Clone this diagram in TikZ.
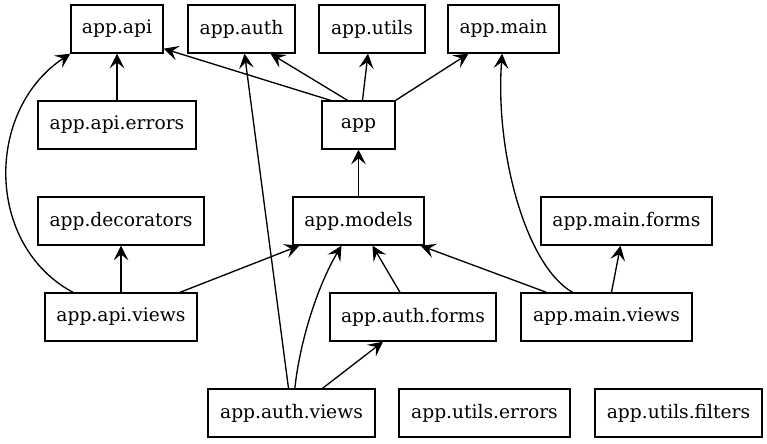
\documentclass[tikz,border=0pt]{standalone}
\usepackage{fontspec}
\newfontfamily\modfont[Extension=.ttf]{DejaVuSerif}
\usepackage{tikz}
\usetikzlibrary{arrows.meta,positioning,calc}

\begin{document}
\begin{tikzpicture}[
  x=0.75pt, y=-0.75pt,
  font=\modfont\fontsize{14pt}{16pt}\selectfont,
  modbox/.style={draw,line width=1pt,minimum height=36pt,inner sep=0pt},
  arr/.style={-{Stealth[length=11pt,width=11pt,inset=4.5pt]},line width=1pt}
]
\useasboundingbox (0,0) rectangle (767,443);
% top row
\node[modbox,minimum width=69pt] (api) at (117,29) {app.api};
\node[modbox,minimum width=80.25pt] (auth) at (241.5,29) {app.auth};
\node[modbox,minimum width=79.5pt] (utils) at (372,29) {app.utils};
\node[modbox,minimum width=83.25pt] (main) at (503.5,29) {app.main};
% second row
\node[modbox,minimum width=118.5pt] (apierrors) at (117,125) {app.api.errors};
\node[modbox,minimum width=54.75pt] (app) at (358.5,125) {app};
% third row
\node[modbox,minimum width=124.5pt] (decorators) at (121,221) {app.decorators};
\node[modbox,minimum width=98.25pt] (models) at (358.5,221) {app.models};
\node[modbox,minimum width=128.25pt] (mainforms) at (626.5,221) {app.main.forms};
% fourth row
\node[modbox,minimum width=114pt] (apiviews) at (121,317) {app.api.views};
\node[modbox,minimum width=124.5pt] (authforms) at (413,317) {app.auth.forms};
\node[modbox,minimum width=128.25pt] (mainviews) at (606.5,317) {app.main.views};
% bottom row
\node[modbox,minimum width=125.25pt] (authviews) at (291.5,413) {app.auth.views};
\node[modbox,minimum width=128.25pt] (utilerrors) at (484.5,413) {app.utils.errors};
\node[modbox,minimum width=125.25pt] (utilfilters) at (678.5,413) {app.utils.filters};

% straight imports: tail/shift/head/shift
\foreach \a/\s/\b/\t in {apierrors.north/0pt/api.south/0pt,
    app.north/-8.25pt/auth.south/21.75pt,
    app.north/3pt/utils.south/-3pt,
    app.north east/0pt/main.south/-26.25pt,
    models.north/0pt/app.south/0pt,
    apiviews.north/0pt/decorators.south/0pt,
    apiviews.north/44.25pt/models.south west/5.25pt,
    authviews.north/-2.25pt/auth.south/2.25pt,
    authviews.north/23.25pt/authforms.south/-22.5pt,
    authforms.north/-9.75pt/models.south/10.5pt,
    mainviews.north/-45pt/models.south east/-3pt,
    mainviews.north/3.75pt/mainforms.south/-4.5pt}
  \draw[arr] ([xshift=\s]\a) -- ([xshift=\t]\b);
\draw[arr] ([xshift=-21pt]app.north) -- ([yshift=3.75pt]api.south east);
% curved ones
\draw[arr] ([xshift=-36pt]apiviews.north) .. controls (-15,245) and (-15,110) .. (api.south west);
\draw[arr] ([xshift=2.5pt]authviews.north) .. controls (300,340) and (318,285) .. ([xshift=-12.75pt]models.south);
\draw[arr] ([xshift=-25.5pt]mainviews.north) .. controls (525,265) and (495,150) .. ([xshift=-1pt]main.south);
\end{tikzpicture}
\end{document}
